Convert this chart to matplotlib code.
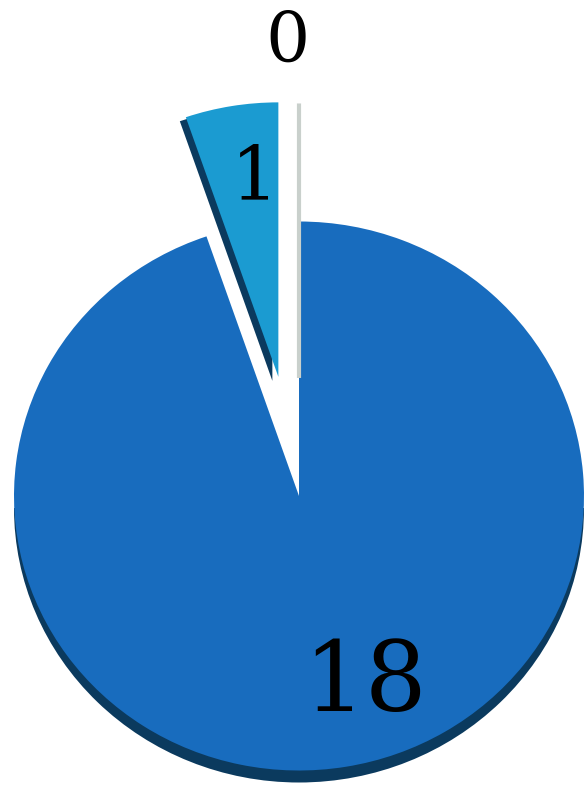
import matplotlib
matplotlib.use("Agg")
import matplotlib.pyplot as plt
from matplotlib.patches import Wedge
import numpy as np

values = [18, 1, 0]
labels = ["18", "1", "0"]
colors = ["#186cbe", "#1b9bd1", "#c9d0cc"]
shadow_color = "#0b3a5e"
explode = [0.0, 0.44, 0.43]

W, H, dpi = 584, 789, 100
fig = plt.figure(figsize=(W / dpi, H / dpi), dpi=dpi)
ax = fig.add_axes([0, 0, 1, 1])

RX, RY = 285.0, 274.5          # pixel size of one data unit (slightly flattened pie)
cx, cy = 299.0, 496.0          # pixel position of the pie centre (from top-left)

wedges, _ = ax.pie(values, explode=explode, startangle=90, counterclock=False,
                   colors=colors, radius=1.0, frame=True,
                   wedgeprops=dict(linewidth=0, zorder=3))

# 3D rim / shadow pieces
big = wedges[0]
bx, by = big.center
rim = Wedge((bx, by - 12 / RY), big.r, 180, 360, facecolor=shadow_color,
            linewidth=0, zorder=2)
ax.add_patch(rim)
small = wedges[1]
sx, sy = small.center
sh = Wedge((sx - 6 / RX, sy - 4 / RY), small.r, small.theta1, small.theta2,
           facecolor=shadow_color, linewidth=0, zorder=2)
ax.add_patch(sh)

# zero slice drawn as a thin grey line
wedges[2].set_edgecolor(colors[2])
wedges[2].set_linewidth(3)

ax.set_aspect("auto")
ax.set_xlim(-cx / RX, (W - cx) / RX)
ax.set_ylim(-(H - cy) / RY, cy / RY)
ax.set_axis_off()

label_off = [(66, -188), (-24, 198), (-12, 336)]   # pixel offsets from wedge centre
fonts = [70, 54, 50]
for w, lab, (dx, dy), fs in zip(wedges, labels, label_off, fonts):
    x0, y0 = w.center
    ax.text(x0 + dx / RX, y0 + dy / RY, lab, ha="center", va="center",
            fontsize=fs, family="DejaVu Serif", color="black", zorder=5)

fig.savefig("out.png", dpi=dpi)
